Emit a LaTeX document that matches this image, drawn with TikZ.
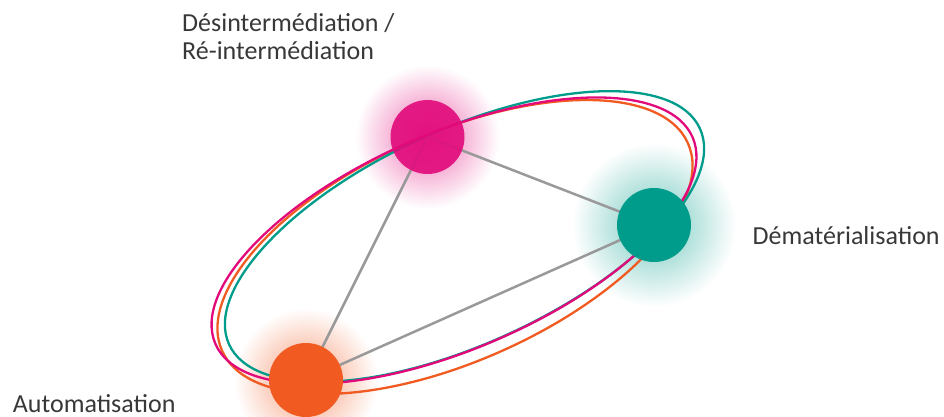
\documentclass[tikz,border=0pt]{standalone}
\usepackage{fontspec}
\setmainfont{Carlito}
\definecolor{pinkc}{HTML}{E2097B}
\definecolor{tealc}{HTML}{009C8B}
\definecolor{orangec}{HTML}{F15B22}
\definecolor{linkgray}{HTML}{999999}
\definecolor{labelgray}{HTML}{383838}
\begin{document}
\begin{tikzpicture}[x=1pt,y=1pt,
  ring/.style={draw=#1,line width=2.3pt},
  link/.style={draw=linkgray,line width=2.5pt},
  ball/.style={circle,fill=#1,minimum size=74pt,inner sep=0pt},
  lbl/.style={anchor=base west,inner sep=0pt,text=labelgray,font=\fontsize{26}{28}\selectfont}]
\useasboundingbox (0,0) rectangle (944,417);
\coordinate (desint) at (427.5,280);
\coordinate (demat) at (654,192);
\coordinate (auto) at (306,37);
% glows
\shade[inner color=pinkc!60,outer color=white] (desint) circle (72pt);
\shade[inner color=tealc!55,outer color=white] (demat) circle (82pt);
\shade[inner color=orangec!60,outer color=white] (auto) circle (72pt);
% rings
\draw[ring=orangec,shift={(455,170)},rotate=24] (0,0) ellipse (255pt and 114pt);
\draw[ring=tealc,shift={(464.5,180.5)},rotate=24.65] (0,0) ellipse (259pt and 107pt);
\draw[ring=pinkc,shift={(454,176.4)},rotate=23.4] (0,0) ellipse (260pt and 108pt);
% links
\draw[link] (desint) -- (auto);
\draw[link] (desint) -- (demat);
\draw[link] (auto) -- (demat);
\node[ball=pinkc,fill opacity=.9] (desintball) at (desint) {};
\node[ball=tealc] (dematball) at (demat) {};
\node[ball=orangec] (autoball) at (auto) {};
\node[lbl] (desintlbl) at (182,385) {Désintermédiation /};
\node[lbl] (reintlbl) at (182,357.5) {Ré-intermédiation};
\node[lbl] (dematlbl) at (752.5,172.7) {Dématérialisation};
\node[lbl] (autolbl) at (12.7,4.7) {Automatisation};
\end{tikzpicture}
\end{document}
